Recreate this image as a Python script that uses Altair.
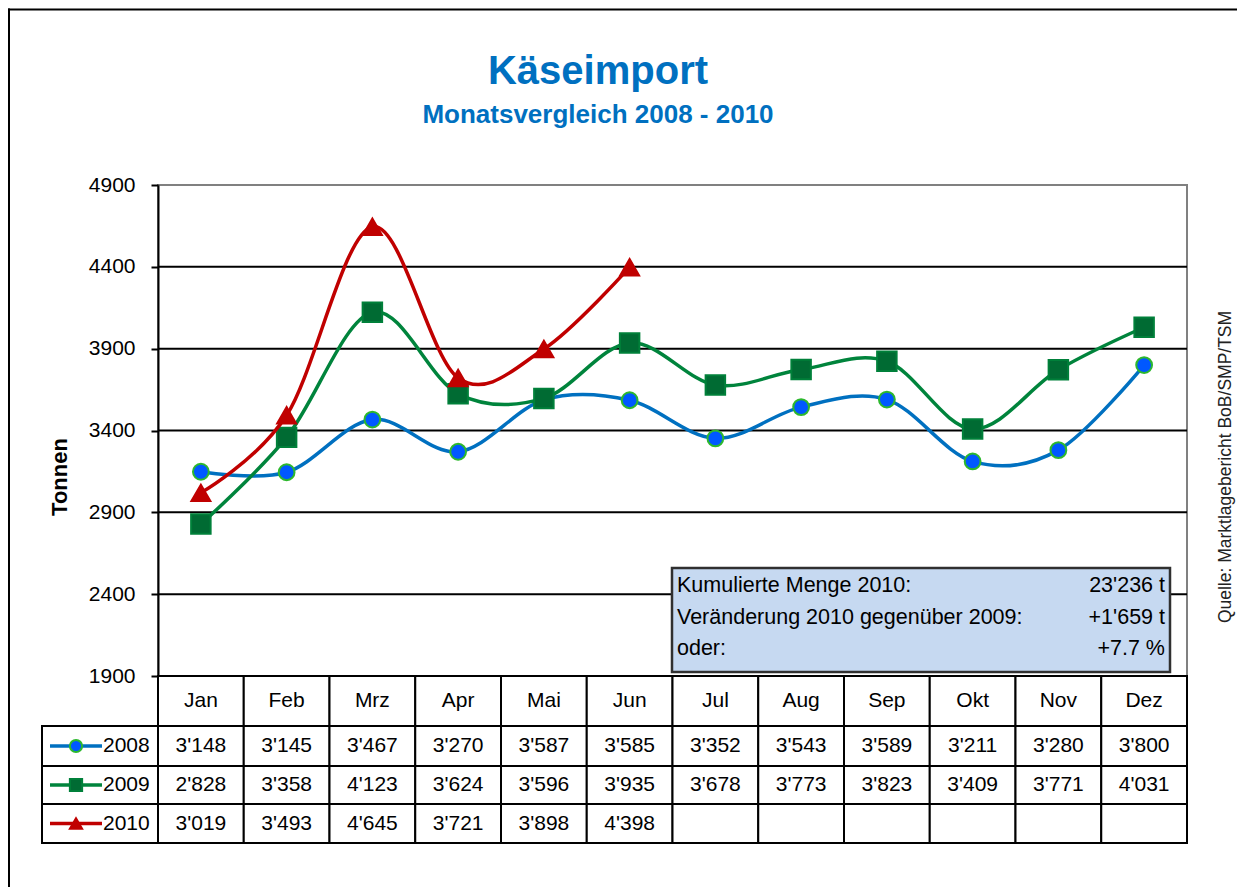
import altair as alt
import pandas as pd

MONTHS = ["Jan", "Feb", "Mrz", "Apr", "Mai", "Jun", "Jul", "Aug", "Sep", "Okt", "Nov", "Dez"]
V2008 = [3148, 3145, 3467, 3270, 3587, 3585, 3352, 3543, 3589, 3211, 3280, 3800]
V2009 = [2828, 3358, 4123, 3624, 3596, 3935, 3678, 3773, 3823, 3409, 3771, 4031]
V2010 = [3019, 3493, 4645, 3721, 3898, 4398]
YEARS = ["2008", "2009", "2010"]
Y_TICKS = [1900, 2400, 2900, 3400, 3900, 4400, 4900]
GRID = [2400, 2900, 3400, 3900, 4400]
TITLE = "Käseimport"
SUBTITLE = "Monatsvergleich 2008 - 2010"
Y_TITLE = "Tonnen"
INFO_LABELS = ["Kumulierte Menge 2010:", "Veränderung 2010 gegenüber 2009:", "oder:"]
INFO_VALUES = ["23'236 t", "+1'659 t", "+7.7 %"]
SOURCE = "Quelle: Marktlagebericht BoB/SMP/TSM"

LINE_COLORS = ["#0070C0", "#00843C", "#C00000"]
MARKER_FILLS = ["#0058FF", "#006B33", "#C00000"]
MARKER_STROKES = ["#2DB82D", "#00803A", "#C00000"]
SHAPES = ["circle", "square", "triangle-up"]
SIZES = [250, 380, 360]

NARROW = "Liberation Sans Narrow, Arial Narrow, Liberation Sans"
SANS = "Liberation Sans, Arial"

W, H = 1029, 491
ROW_EDGES = [(491, 541), (541, 581), (581, 619), (619, 658)]


def fmt(v):
    return f"{v:,}".replace(",", "'")


series = {"2008": V2008, "2009": V2009, "2010": V2010}

xs = alt.Scale(domain=[0, 12], nice=False, zero=False)
ys = alt.Scale(domain=[1900, 4900], nice=False, zero=False)

layers = []

# gridlines + y axis
grid_df = pd.DataFrame({"v": GRID, "x0": [0] * len(GRID), "x1": [12] * len(GRID)})
grid = alt.Chart(grid_df).mark_rule(color="black", strokeWidth=2).encode(
    y=alt.Y("v:Q", scale=ys, axis=alt.Axis(
        values=Y_TICKS, grid=False, format="d", domainColor="black", domainWidth=2,
        tickColor="black", tickWidth=2, tickSize=7, labelFont=SANS, labelFontSize=21,
        labelColor="black", labelPadding=16, title=None)),
    x=alt.X("x0:Q", scale=xs, axis=None),
    x2="x1:Q",
)
layers.append(grid)

# series lines and markers
for k, yr in enumerate(YEARS):
    vals = series[yr]
    d = pd.DataFrame({"pos": [i + 0.5 for i in range(len(vals))], "value": vals})
    line = alt.Chart(d).mark_line(color=LINE_COLORS[k], strokeWidth=3.5, interpolate="cardinal").encode(
        x=alt.X("pos:Q", scale=xs, axis=None),
        y=alt.Y("value:Q", scale=ys),
    )
    pts = alt.Chart(d).mark_point(shape=SHAPES[k], size=SIZES[k], filled=True, opacity=1,
                                  fill=MARKER_FILLS[k], stroke=MARKER_STROKES[k], strokeWidth=2).encode(
        x=alt.X("pos:Q", scale=xs, axis=None),
        y=alt.Y("value:Q", scale=ys),
    )
    layers += [line, pts]

# table cells
cell_df = pd.DataFrame({"left": list(range(12)), "right": list(range(1, 13)),
                        "pos": [i + 0.5 for i in range(12)], "month": MONTHS})
for top, bot in ROW_EDGES:
    layers.append(alt.Chart(cell_df).mark_rect(fill="white", stroke="black", strokeWidth=2).encode(
        x=alt.X("left:Q", scale=xs, axis=None), x2="right:Q",
        y=alt.value(top), y2=alt.value(bot)))

top, bot = ROW_EDGES[0]
layers.append(alt.Chart(cell_df).mark_text(font=NARROW, fontSize=21, color="black", baseline="middle").encode(
    x=alt.X("pos:Q", scale=xs, axis=None), y=alt.value((top + bot) / 2), text="month:N"))

for k, yr in enumerate(YEARS):
    top, bot = ROW_EDGES[k + 1]
    cy = (top + bot) / 2
    vals = series[yr]
    d = pd.DataFrame({"pos": [i + 0.5 for i in range(len(vals))], "label": [fmt(v) for v in vals]})
    layers.append(alt.Chart(d).mark_text(font=NARROW, fontSize=21, color="black", baseline="middle").encode(
        x=alt.X("pos:Q", scale=xs, axis=None), y=alt.value(cy), text="label:N"))
    one = pd.DataFrame({"year": [yr]})
    layers.append(alt.Chart(one).mark_rect(fill="white", stroke="black", strokeWidth=2).encode(
        x=alt.value(-116), x2=alt.value(0), y=alt.value(top), y2=alt.value(bot)))
    layers.append(alt.Chart(one).mark_rule(color=LINE_COLORS[k], strokeWidth=3.5).encode(
        x=alt.value(-108), x2=alt.value(-56), y=alt.value(cy)))
    layers.append(alt.Chart(one).mark_point(shape=SHAPES[k], size=150, filled=True, opacity=1,
                                            fill=MARKER_FILLS[k], stroke=MARKER_STROKES[k], strokeWidth=2).encode(
        x=alt.value(-82), y=alt.value(cy)))
    layers.append(alt.Chart(one).mark_text(font=NARROW, fontSize=21, color="black", align="left",
                                           baseline="middle").encode(
        x=alt.value(-55), y=alt.value(cy), text="year:N"))

# info box
box = pd.DataFrame({"k": [0]})
layers.append(alt.Chart(box).mark_rect(fill="#C6D9F1", stroke="#303030", strokeWidth=2.5).encode(
    x=alt.value(514), x2=alt.value(1012), y=alt.value(383), y2=alt.value(487)))
for j, (lab, val) in enumerate(zip(INFO_LABELS, INFO_VALUES)):
    cy = 401 + j * 31.5
    d = pd.DataFrame({"lab": [lab], "val": [val]})
    layers.append(alt.Chart(d).mark_text(font=NARROW, fontSize=21.5, color="black", align="left",
                                         baseline="middle").encode(
        x=alt.value(519), y=alt.value(cy), text="lab:N"))
    layers.append(alt.Chart(d).mark_text(font=NARROW, fontSize=21.5, color="black", align="right",
                                         baseline="middle").encode(
        x=alt.value(1007), y=alt.value(cy), text="val:N"))

# titles and labels
txt = pd.DataFrame({"t": [TITLE], "s": [SUBTITLE], "y": [Y_TITLE], "src": [SOURCE]})
layers.append(alt.Chart(txt).mark_text(font=SANS, fontWeight="bold", fontSize=40, color="#0070C0",
                                       align="center", baseline="alphabetic").encode(
    x=alt.value(440), y=alt.value(-101), text="t:N"))
layers.append(alt.Chart(txt).mark_text(font=SANS, fontWeight="bold", fontSize=26, color="#0070C0",
                                       align="center", baseline="alphabetic").encode(
    x=alt.value(440), y=alt.value(-62), text="s:N"))
layers.append(alt.Chart(txt).mark_text(font=SANS, fontWeight="bold", fontSize=22, color="black",
                                       align="center", baseline="middle", angle=270).encode(
    x=alt.value(-98), y=alt.value(292), text="y:N"))
layers.append(alt.Chart(txt).mark_text(font=NARROW, fontSize=17.5, color="#222222",
                                       align="center", baseline="middle", angle=270).encode(
    x=alt.value(1068), y=alt.value(282), text="src:N"))

# outer frame (left and top edges; the rest lies outside the picture)
layers.append(alt.Chart(box).mark_rule(color="black", strokeWidth=2).encode(
    x=alt.value(-149), y=alt.value(-176.5), y2=alt.value(720)))
layers.append(alt.Chart(box).mark_rule(color="black", strokeWidth=2).encode(
    x=alt.value(-150), x2=alt.value(1090), y=alt.value(-175.5)))

chart = alt.layer(*layers).properties(
    width=W, height=H,
    padding={"left": 150, "top": 177, "right": 50, "bottom": 211},
    autosize=alt.AutoSizeParams(type="none"),
    background="white",
).configure_view(stroke="#808080", strokeWidth=2)

chart.save("out.html", embed_options={"renderer": "svg", "actions": False})
